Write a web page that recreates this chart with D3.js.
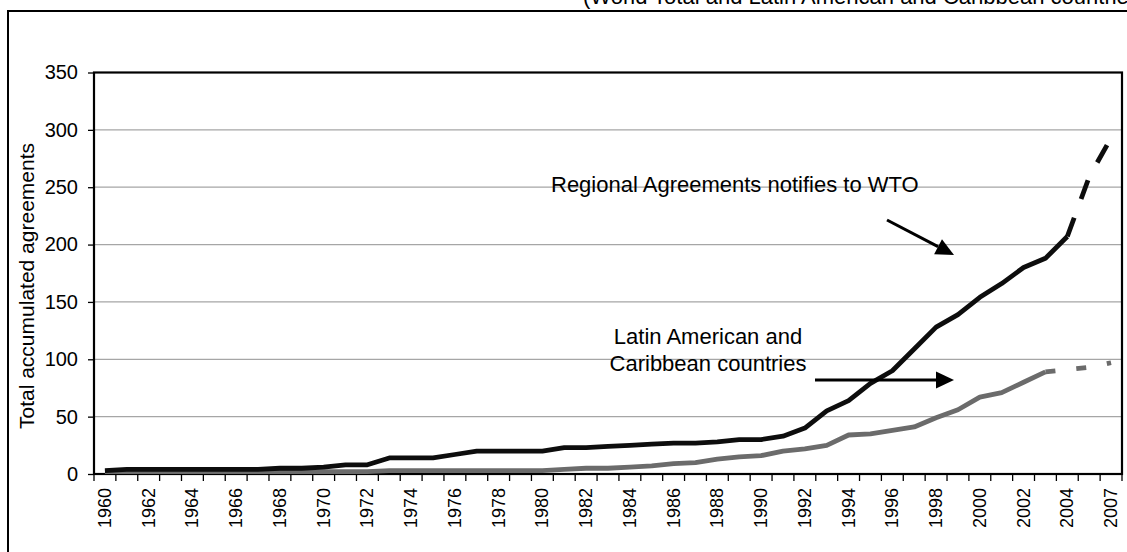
<!DOCTYPE html>
<html>
<head>
<meta charset="utf-8">
<script src="https://cdn.jsdelivr.net/npm/d3@7/dist/d3.min.js"></script>
<style>
  html, body { margin: 0; padding: 0; background: #fff; }
  svg { display: block; font-family: Arial, "Liberation Sans", sans-serif; }
</style>
</head>
<body>
<svg id="chart" width="1127" height="552"></svg>
<script>
// Categories on the x axis (one per year; 2006 is not part of the series)
const years = ["1960","1961","1962","1963","1964","1965","1966","1967","1968","1969",
  "1970","1971","1972","1973","1974","1975","1976","1977","1978","1979",
  "1980","1981","1982","1983","1984","1985","1986","1987","1988","1989",
  "1990","1991","1992","1993","1994","1995","1996","1997","1998","1999",
  "2000","2001","2002","2003","2004","2005","2007"];

// Labels actually printed under the axis
const yearLabels = ["1960","1962","1964","1966","1968","1970","1972","1974","1976","1978",
  "1980","1982","1984","1986","1988","1990","1992","1994","1996","1998",
  "2000","2002","2004","2007"];

// Accumulated regional agreements notified to the WTO (world total)
const worldTotal = [3,4,4,4,4,4,4,4,5,5,
  6,8,8,14,14,14,17,20,20,20,
  20,23,23,24,25,26,27,27,28,30,
  30,33,40,55,64,79,90,109,128,139,
  154,166,180,188,207,259,293];

// Accumulated agreements of Latin American and Caribbean countries
const latinAmerica = [2,2,2,2,2,2,2,2,2,2,
  2,2,2,3,3,3,3,3,3,3,
  3,4,5,5,6,7,9,10,13,15,
  16,20,22,25,34,35,38,41,49,56,
  67,71,80,89,91,93,97];

// Index where each series switches from recorded to projected (dashed)
const worldSolidEnd = 44;   // 2004
const latinSolidEnd = 43;   // 2003

const yTicks = [0,50,100,150,200,250,300,350];

const svg = d3.select("#chart");

const plot = { left: 94, right: 1122, top: 72.5, bottom: 474 };

const x = d3.scaleBand().domain(years).range([plot.left, plot.right]);
const y = d3.scaleLinear().domain([0, 350]).range([plot.bottom, plot.top]);

// Outer frame (runs past the bottom-right of the view)
svg.append("rect")
  .attr("x", 8).attr("y", 11)
  .attr("width", 1150).attr("height", 580)
  .attr("fill", "none").attr("stroke", "#000").attr("stroke-width", 2);

// Heading, partly above the view
svg.append("text")
  .attr("x", 583).attr("y", 4)
  .attr("font-size", 22)
  .attr("fill", "#000")
  .text("(World Total and Latin American and Caribbean countries)");

// Horizontal gridlines
svg.append("g")
  .selectAll("line")
  .data(yTicks.filter(d => d > 0 && d < 350))
  .join("line")
  .attr("x1", plot.left).attr("x2", plot.right)
  .attr("y1", d => y(d)).attr("y2", d => y(d))
  .attr("stroke", "#a6a6a6").attr("stroke-width", 1.2);

// Y axis
const yAxis = d3.axisLeft(y).tickValues(yTicks).tickSize(6).tickPadding(10).tickFormat(d3.format("d"));
const gy = svg.append("g").attr("transform", `translate(${plot.left},0)`).call(yAxis);
gy.select(".domain").remove();
gy.selectAll(".tick line").attr("stroke", "#000").attr("stroke-width", 1.3);
gy.selectAll(".tick text").attr("font-size", 20).attr("fill", "#000")
  .attr("font-family", "Arial, 'Liberation Sans', sans-serif");

// X axis: ticks on category boundaries, labels centred in categories
const boundaries = years.map(d => x(d)).concat([plot.right]);
svg.append("g")
  .selectAll("line")
  .data(boundaries)
  .join("line")
  .attr("x1", d => d).attr("x2", d => d)
  .attr("y1", plot.bottom).attr("y2", plot.bottom + 7)
  .attr("stroke", "#000").attr("stroke-width", 1.3);

svg.append("g")
  .selectAll("text")
  .data(yearLabels)
  .join("text")
  .attr("transform", d => `translate(${x(d) + x.bandwidth() / 2 + 6},${plot.bottom + 14}) rotate(-90)`)
  .attr("text-anchor", "end")
  .attr("font-size", 18)
  .attr("fill", "#000")
  .text(d => d);

// Plot frame
svg.append("rect")
  .attr("x", plot.left).attr("y", plot.top)
  .attr("width", plot.right - plot.left).attr("height", plot.bottom - plot.top)
  .attr("fill", "none").attr("stroke", "#000").attr("stroke-width", 2.2);

// Y axis title
svg.append("text")
  .attr("transform", "translate(34,286) rotate(-90)")
  .attr("text-anchor", "middle")
  .attr("font-size", 21)
  .attr("fill", "#000")
  .text("Total accumulated agreements");

// Series lines
const line = d3.line()
  .x(d => x(d.year) + x.bandwidth() / 2)
  .y(d => y(d.value));

function series(values) {
  return values.map((v, i) => ({ year: years[i], value: v }));
}

function drawSeries(values, solidEnd, color, dash) {
  const pts = series(values);
  svg.append("path")
    .attr("d", line(pts.slice(0, solidEnd + 1)))
    .attr("fill", "none").attr("stroke", color)
    .attr("stroke-width", 4.8).attr("stroke-linejoin", "round");
  svg.append("path")
    .attr("d", line(pts.slice(solidEnd)))
    .attr("fill", "none").attr("stroke", color)
    .attr("stroke-width", 4.8).attr("stroke-dasharray", dash);
}

drawSeries(latinAmerica, latinSolidEnd, "#6b6b6b", "10,21");
drawSeries(worldTotal, worldSolidEnd, "#0d0d0d", "20,20");

// Annotations
svg.append("text")
  .attr("x", 551).attr("y", 192)
  .attr("font-size", 22).attr("fill", "#000")
  .text("Regional Agreements notifies to WTO");

const lat = svg.append("text")
  .attr("x", 708).attr("y", 344)
  .attr("text-anchor", "middle")
  .attr("font-size", 22).attr("fill", "#000");
lat.append("tspan").attr("x", 708).attr("dy", 0).text("Latin American and");
lat.append("tspan").attr("x", 708).attr("dy", 27).text("Caribbean countries");

function arrow(x1, y1, x2, y2) {
  const ang = Math.atan2(y2 - y1, x2 - x1);
  const len = 18, half = 8.5;
  const bx = x2 - len * Math.cos(ang), by = y2 - len * Math.sin(ang);
  svg.append("line")
    .attr("x1", x1).attr("y1", y1).attr("x2", bx).attr("y2", by)
    .attr("stroke", "#000").attr("stroke-width", 3);
  const p = [
    [x2, y2],
    [bx + half * Math.sin(ang), by - half * Math.cos(ang)],
    [bx - half * Math.sin(ang), by + half * Math.cos(ang)]
  ];
  svg.append("polygon").attr("points", p.map(q => q.join(",")).join(" ")).attr("fill", "#000");
}

arrow(887, 220, 954, 255);
arrow(815, 380, 954, 380);
</script>
</body>
</html>
